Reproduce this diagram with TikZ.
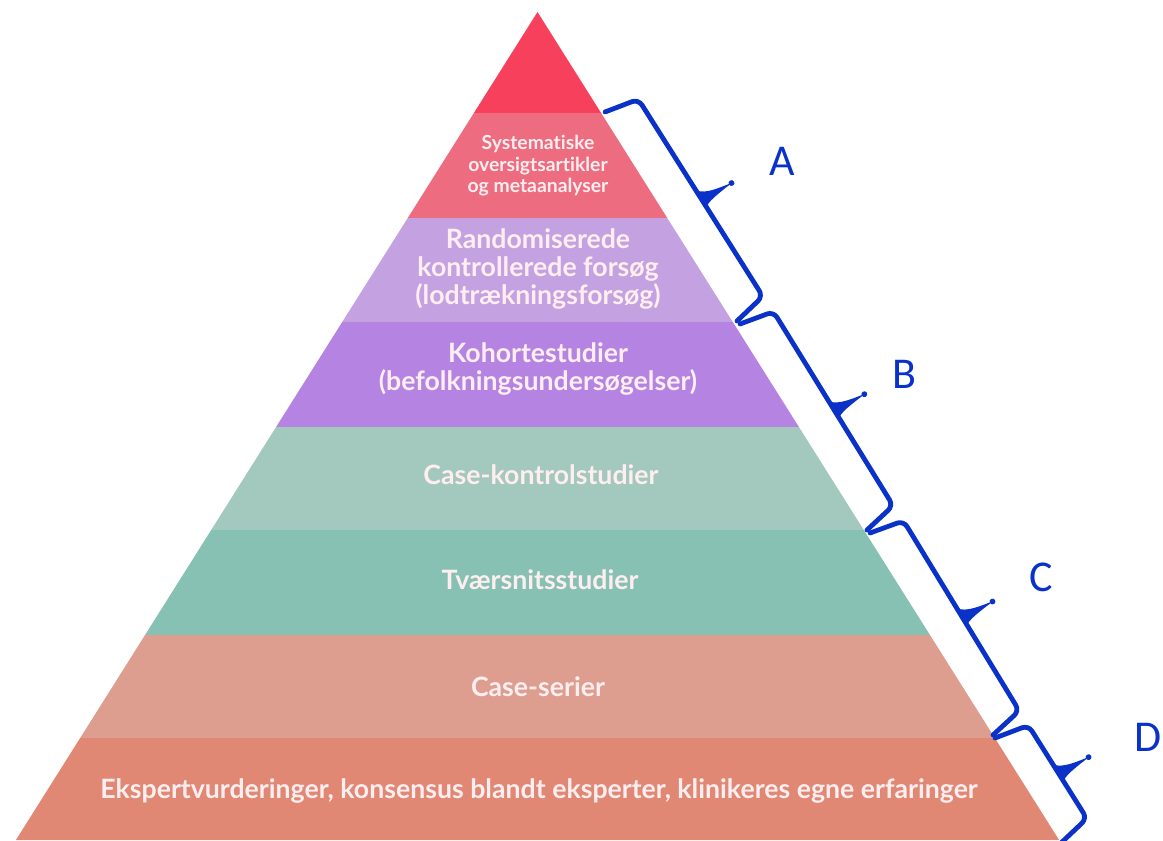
\documentclass[tikz,border=0pt]{standalone}
\usepackage{fontspec}
\setmainfont{Lato}[Ligatures=NoCommon]
\newfontfamily\labfont{Carlito}
\definecolor{cTop}{RGB}{247,65,92}
\definecolor{cSys}{RGB}{238,108,128}
\definecolor{cRand}{RGB}{196,162,226}
\definecolor{cKoh}{RGB}{181,132,226}
\definecolor{cCK}{RGB}{163,200,190}
\definecolor{cTv}{RGB}{134,193,180}
\definecolor{cCS}{RGB}{222,158,143}
\definecolor{cEk}{RGB}{224,136,116}
\definecolor{ptext}{RGB}{255,238,240}
\definecolor{bblue}{RGB}{10,50,200}
\tikzset{
  pyr/.style={text=ptext, align=center, inner sep=0pt, font=\bfseries\fontsize{20}{20.8}\selectfont},
  pyrsmall/.style={pyr, font=\bfseries\fontsize{14.5}{16.1}\selectfont},
  lab/.style={text=bblue, inner sep=0pt, font=\labfont\fontsize{33}{40}\selectfont},
  bracestroke/.style={draw=bblue, line width=3.6pt, line cap=round, line join=round, rounded corners=5pt},
  pics/bracepic/.style={code={
    \begin{scope}[y=0.75pt]
      \draw[bracestroke] (0,0) -- (7,35) -- ({#1/2},35) -- ({#1-7},35) -- (#1,0);
      \fill[bblue] ({#1/2-12},34) .. controls ({#1/2-2},36) and ({#1/2+1},52) .. ({#1/2+4},70)
        .. controls ({#1/2+6},52) and ({#1/2+7},38) .. ({#1/2+12},34) -- cycle;
      \fill[bblue] ({#1/2+4},69) circle (2.2pt);
    \end{scope}
  }}
}
\begin{document}
\begin{tikzpicture}[x=0.75pt,y=-0.75pt]
\useasboundingbox (0,0) rectangle (1163,840);
\begin{scope}
  \clip (537.5,12) -- (1059.1,840) -- (15.9,840) -- cycle;
  \fill[cTop]  (0,0)   rectangle (1163,113);
  \fill[cSys]  (0,113) rectangle (1163,218);
  \fill[cRand] (0,218) rectangle (1163,322);
  \fill[cKoh]  (0,322) rectangle (1163,427);
  \fill[cCK]   (0,427) rectangle (1163,530);
  \fill[cTv]   (0,530) rectangle (1163,635);
  \fill[cCS]   (0,635) rectangle (1163,738);
  \fill[cEk]   (0,738) rectangle (1163,850);
\end{scope}

\node[pyrsmall] (sys) at (538,166) {Systematiske\\oversigtsartikler\\og metaanalyser};
\node[pyr] (rand) at (538,269) {Randomiserede\\kontrollerede forsøg\\(lodtrækningsforsøg)};
\node[pyr] (koh) at (538,369) {Kohortestudier\\(befolkningsundersøgelser)};
\node[pyr] (ck) at (541,475) {Case-kontrolstudier};
\node[pyr] (tv) at (540,580) {Tværsnitsstudier};
\node[pyr] (cs) at (538,687) {Case-serier};
\node[pyr] (ek) at (539,791) {Ekspertvurderinger, konsensus blandt eksperter, klinikeres egne erfaringer};

\coordinate (As) at (605,112); \coordinate (Ae) at (737,321);
\coordinate (Bs) at (740,324); \coordinate (Be) at (867,530);
\coordinate (Cs) at (870,533); \coordinate (Ce) at (993,735);
\coordinate (Ds) at (995,738); \coordinate (De) at (1061,843);
\path (As) -- (Ae) pic[pos=0,sloped]{bracepic=247.2};
\path (Bs) -- (Be) pic[pos=0,sloped]{bracepic=242.0};
\path (Cs) -- (Ce) pic[pos=0,sloped]{bracepic=236.5};
\path (Ds) -- (De) pic[pos=0,sloped]{bracepic=124.0};

\node[lab] (la) at (782,161) {A};
\node[lab] (lb) at (904,374) {B};
\node[lab] (lc) at (1041,577) {C};
\node[lab] (ld) at (1148,737) {D};
\end{tikzpicture}
\end{document}
